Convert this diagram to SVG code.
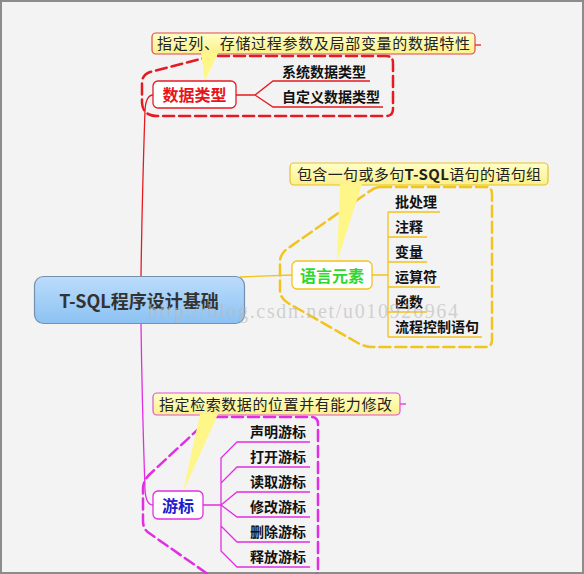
<svg xmlns="http://www.w3.org/2000/svg" width="584" height="574" viewBox="0 0 584 574">
<defs>
<linearGradient id="gMain" x1="0" y1="0" x2="0" y2="1"><stop offset="0" stop-color="#bcdcfb"/><stop offset="1" stop-color="#8cc2f3"/></linearGradient>
<linearGradient id="gCall" x1="0" y1="0" x2="0" y2="1"><stop offset="0" stop-color="#ffffc8"/><stop offset="1" stop-color="#fbf08a"/></linearGradient>
<style>
.cjk{font-family:"Noto Sans CJK SC","Noto Sans",sans-serif}
.topic{font-size:16px;font-weight:bold;text-anchor:middle}
.sub{font-size:14px;font-weight:bold;fill:#111}
.call{font-size:15px;fill:#222}
.bnd{fill:none;stroke-width:2.5;stroke-dasharray:11 5;stroke-linecap:round}
.ln{fill:none;stroke-width:1.3}
.red{stroke:#e51b23}
.yel{stroke:#f2c41c}
.mag{stroke:#e22ee2}
</style>
</defs>
<rect x="1" y="1" width="582" height="572" fill="#f3f3f3" stroke="#8c8c8c" stroke-width="2"/>

<g id="boundaries">
<path class="bnd red" d="M218,56 H386 Q393,56 393,63 V109 Q393,116 386,116 H157 Q143,116 142,103 V83 Q142,75 150,72 L208,57 Q212,56 218,56 Z"/>
<path class="bnd yel" d="M380,187 H486 Q492,187 492,194 V340 Q492,347 485,347 H372 Q365,347 358,343 L288,303 Q280,298 280,290 V262 Q280,254 287,249 L370,191 Q375,187 380,187 Z"/>
<path class="bnd mag" d="M216,417 H311 Q318,417 318,424 V569 Q318,577 309,577 H212 L149,533 Q143,529 143,521 V489 Q143,481 149,475 L208,420 Q211,417 216,417 Z"/>
</g>

<g id="connectors">
<path class="ln red" d="M141,277 C142,200 144,140 145,110 Q146,95 153,95"/>
<path class="ln yel" d="M240,277 L292,275"/>
<path class="ln mag" d="M141,324 C142,400 144,460 145,490 Q146,505 153,505"/>
<path class="ln red" d="M236,95 H255 L273,81 H370 M255,95 L273,107 H383"/>
<path class="ln yel" d="M372,275 H388 M388,212 V337 M388,212 H440 M388,237 H427 M388,262 H427 M388,287 H440 M388,312 H427 M388,337 H482"/>
<path class="ln mag" d="M203,505 H221 M221,505 V458 L237,442 H310 M221,505 V483 L237,467 H310 M221,505 L237,492 H310 M221,505 L237,517 H310 M221,505 V526 L237,542 H310 M221,505 V551 L237,567 H310"/>
<path class="ln red" d="M475,45 H481"/>
<path class="ln mag" d="M400,404 H406"/>
</g>

<g id="callout-1">
<rect x="152" y="33" width="323" height="21" rx="4" fill="url(#gCall)" stroke="#e04848" stroke-width="1.2"/>
<polygon points="201,53 218,53 205,81" fill="#fff68a"/>
<text class="cjk call" x="157" y="49" textLength="313" lengthAdjust="spacing">指定列、存储过程参数及局部变量的数据特性</text>
</g>
<g id="callout-2">
<rect x="290" y="163" width="258" height="22" rx="4" fill="url(#gCall)" stroke="#e8c030" stroke-width="1.2"/>
<polygon points="340,184 362,184 337,262" fill="#fff68a"/>
<text class="cjk call" x="297" y="180" textLength="244" lengthAdjust="spacing">包含一句或多句<tspan font-weight="bold">T-SQL</tspan>语句的语句组</text>
</g>
<g id="callout-3">
<rect x="153" y="393" width="247" height="22" rx="4" fill="url(#gCall)" stroke="#e050e0" stroke-width="1.2"/>
<polygon points="200,414 218,414 183,492" fill="#fff68a"/>
<text class="cjk call" x="159" y="410" textLength="233" lengthAdjust="spacing">指定检索数据的位置并有能力修改</text>
</g>

<g id="main">
<rect x="34.5" y="276.5" width="210" height="47" rx="9" fill="url(#gMain)" stroke="#7390ad" stroke-width="1.2"/>
<text class="cjk" x="139" y="308" font-size="18" font-weight="bold" fill="#333" text-anchor="middle">T-SQL程序设计基础</text>
</g>

<g id="node-datatype">
<rect x="153" y="81" width="83" height="27" rx="5" fill="#fff" stroke="#e51b23" stroke-width="1.3"/>
<text class="cjk topic" x="194.5" y="101" fill="#e8141c">数据类型</text>
</g>
<g id="node-datatype-children">
<text class="cjk sub" x="282" y="77">系统数据类型</text>
<text class="cjk sub" x="282" y="102">自定义数据类型</text>
</g>

<g id="node-lang">
<rect x="292" y="261" width="80" height="28" rx="5" fill="#fff" stroke="#f2c41c" stroke-width="1.3"/>
<text class="cjk topic" x="332" y="282" fill="#2fd82f">语言元素</text>
</g>
<g id="node-lang-children">
<text class="cjk sub" x="395" y="207">批处理</text>
<text class="cjk sub" x="395" y="232">注释</text>
<text class="cjk sub" x="395" y="257">变量</text>
<text class="cjk sub" x="395" y="282">运算符</text>
<text class="cjk sub" x="395" y="307">函数</text>
<text class="cjk sub" x="395" y="332">流程控制语句</text>
</g>

<g id="node-cursor">
<rect x="153" y="491" width="50" height="28" rx="5" fill="#fff" stroke="#e22ee2" stroke-width="1.3"/>
<text class="cjk topic" x="178" y="512" fill="#1c1ccc">游标</text>
</g>
<g id="node-cursor-children">
<text class="cjk sub" x="250" y="437">声明游标</text>
<text class="cjk sub" x="250" y="462">打开游标</text>
<text class="cjk sub" x="250" y="487">读取游标</text>
<text class="cjk sub" x="250" y="512">修改游标</text>
<text class="cjk sub" x="250" y="537">删除游标</text>
<text class="cjk sub" x="250" y="562">释放游标</text>
</g>

<text x="148" y="318" font-family="Liberation Serif, serif" font-size="20" fill="#b8b8b8" fill-opacity="0.6" textLength="310" lengthAdjust="spacing">http://blog.csdn.net/u010926964</text>
</svg>
